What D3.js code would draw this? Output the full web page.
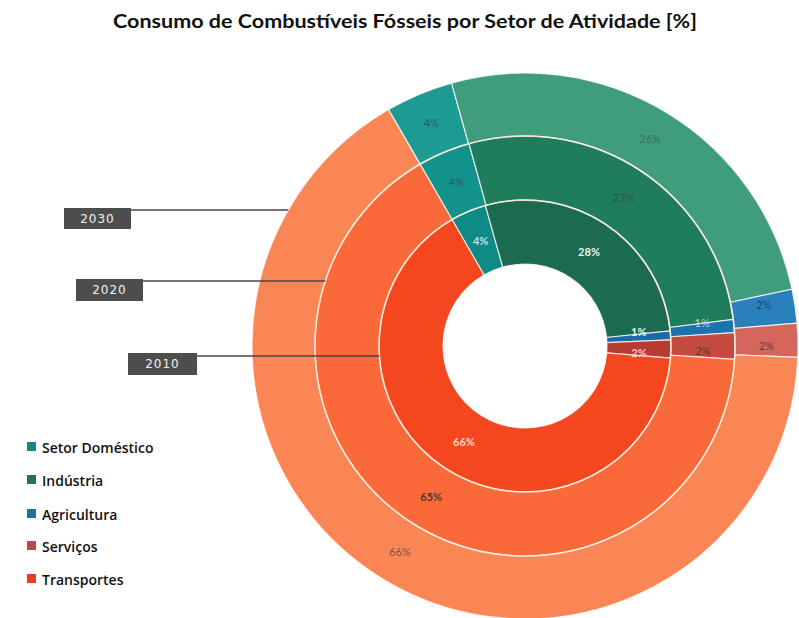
<!DOCTYPE html>
<html>
<head>
<meta charset="utf-8">
<script src="https://cdn.jsdelivr.net/npm/d3@7"></script>
<style>
  html, body { margin: 0; padding: 0; background: #fff; }
  svg { display: block; }
</style>
</head>
<body>
<svg id="chart" width="799" height="618"></svg>
<script>
const title = "Consumo de Combustíveis Fósseis por Setor de Atividade [%]";
const categories = ["Setor Doméstico", "Indústria", "Agricultura", "Serviços", "Transportes"];
const years = ["2010", "2020", "2030"];
const values2010 = [4, 28, 1, 2, 66];
const values2020 = [4, 27, 1, 2, 65];
const values2030 = [4, 26, 2, 2, 66];
const seriesValues = [values2010, values2020, values2030];

// styles
const ringColors = [
  ["#0f8b86", "#1c6b50", "#1a6aa8", "#b83a30", "#f4461f"],
  ["#13928c", "#1f7c5d", "#1d72b0", "#c54a40", "#f9693a"],
  ["#1d9a92", "#3f9c7d", "#2a7fbd", "#d4665c", "#fb8655"]
];
const legendColors = ["#138a7c", "#2b6f58", "#1d6fa5", "#b94a48", "#f03a2a"];
const labelColors = [
  ["#cfe6f0", "#ffffff", "#ffffff", "#f3d6d0", "#ffe3da"],
  ["#2e4a6e", "#2f4a3e", "#cfe2f3", "#4a3030", "#2e2a20"],
  ["#2e4a6e", "#4a5a55", "#1e3550", "#4a3535", "#5a4a3a"]
];
// vertical nudges for labels of thin slices (agricultura up, serviços down)
const labelNudge = [0, 0, -6, 5, 0];

const svg = d3.select("#chart");
const cx = 525, cy = 346;
const radii = [82, 146, 210, 273];

svg.append("text")
  .attr("x", 405).attr("y", 28)
  .attr("text-anchor", "middle")
  .attr("font-family", "Lato, 'Open Sans', sans-serif")
  .attr("font-weight", "bold")
  .attr("font-size", 18)
  .attr("fill", "#111")
  .attr("textLength", 584)
  .attr("lengthAdjust", "spacingAndGlyphs")
  .text(title);

const g = svg.append("g").attr("transform", `translate(${cx},${cy})`);
const start = -Math.PI / 6;
const pie = d3.pie().sort(null).value(d => d).startAngle(start).endAngle(start + 2 * Math.PI);

seriesValues.forEach((vals, ri) => {
  const arc = d3.arc().innerRadius(radii[ri]).outerRadius(radii[ri + 1]);
  const arcs = pie(vals);
  const rg = g.append("g");
  rg.selectAll("path").data(arcs).join("path")
    .attr("d", arc)
    .attr("fill", (d, i) => ringColors[ri][i])
    .attr("stroke", "#fff")
    .attr("stroke-opacity", 0.75)
    .attr("stroke-width", 1.2);
  rg.selectAll("text").data(arcs).join("text")
    .attr("transform", (d, i) => {
      const [x, y] = arc.centroid(d);
      return `translate(${x},${y + labelNudge[i]})`;
    })
    .attr("text-anchor", "middle")
    .attr("dy", "0.35em")
    .attr("font-family", "Lato, 'Open Sans', sans-serif")
    .attr("font-weight", (d, i) => (ri === 0 || (ri === 1 && i === 4)) ? "bold" : "normal")
    .attr("font-size", 11)
    .attr("fill", (d, i) => labelColors[ri][i])
    .attr("fill-opacity", ri === 0 ? 0.95 : 0.85)
    .text(d => d.data + "%");
});

// ring separators
radii.slice(1, 3).forEach(r => {
  g.append("circle").attr("r", r).attr("fill", "none")
    .attr("stroke", "#fdebd5").attr("stroke-opacity", 0.85).attr("stroke-width", 1.6);
});

// year annotations
const yearBoxes = [
  { x: 128, y: 353, w: 69, h: 22, ly: 356 },
  { x: 76, y: 279, w: 67, h: 22, ly: 281 },
  { x: 64, y: 208, w: 67, h: 21, ly: 210 }
];
years.forEach((yr, i) => {
  const b = yearBoxes[i];
  const r = radii[i + 1];
  const dy = b.ly - cy;
  const ex = cx - Math.sqrt(r * r - dy * dy);
  svg.append("line")
    .attr("x1", b.x + b.w).attr("y1", b.ly)
    .attr("x2", ex).attr("y2", b.ly)
    .attr("stroke", "#4a4448").attr("stroke-width", 1.3);
  svg.append("rect")
    .attr("x", b.x).attr("y", b.y).attr("width", b.w).attr("height", b.h)
    .attr("fill", "#4d4d4d");
  svg.append("text")
    .attr("x", b.x + b.w / 2).attr("y", b.y + b.h / 2)
    .attr("dy", "0.36em")
    .attr("text-anchor", "middle")
    .attr("font-family", "'DejaVu Sans', sans-serif")
    .attr("font-size", 12)
    .attr("fill", "#f2f2f2")
    .attr("letter-spacing", 1)
    .text(yr);
});

// legend
const legendY = [449, 482, 516, 548, 581];
const lg = svg.append("g");
categories.forEach((c, i) => {
  lg.append("rect")
    .attr("x", 27).attr("y", legendY[i] - 7).attr("width", 9).attr("height", 9)
    .attr("fill", legendColors[i]);
  lg.append("text")
    .attr("x", 42).attr("y", legendY[i])
    .attr("dy", "0.3em")
    .attr("font-family", "'Open Sans', Lato, sans-serif")
    .attr("font-weight", 600)
    .attr("font-size", 14)
    .attr("fill", "#111")
    .text(c);
});
</script>
</body>
</html>
